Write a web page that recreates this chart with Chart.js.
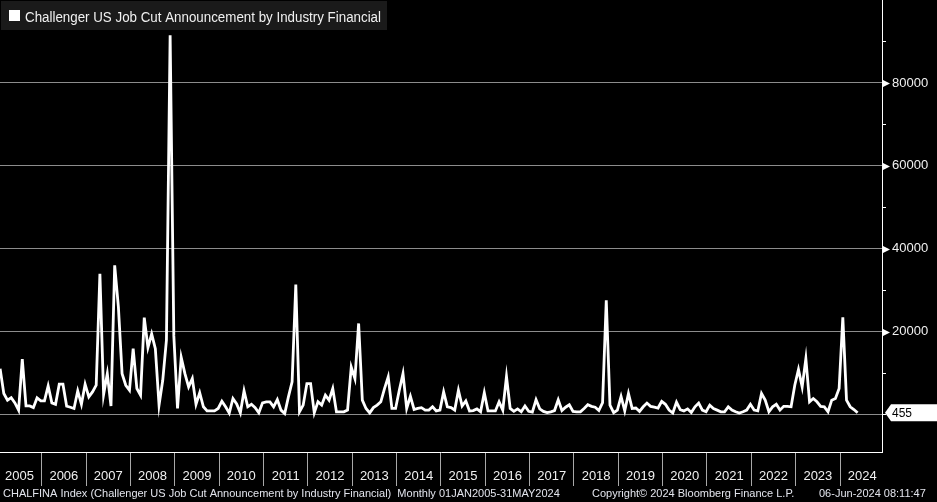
<!DOCTYPE html>
<html>
<head>
<meta charset="utf-8">
<script src="https://cdn.jsdelivr.net/npm/chart.js@4.4.1/dist/chart.umd.min.js"></script>
<style>
  html, body { margin: 0; padding: 0; background: #000; }
  #wrap { width: 937px; height: 502px; }
</style>
</head>
<body>
<div id="wrap"><canvas id="graph" width="937" height="502"></canvas></div>
<script>
// Monthly values, Jan 2005 .. May 2024
const years = ['2005','2006','2007','2008','2009','2010','2011','2012','2013','2014',
               '2015','2016','2017','2018','2019','2020','2021','2022','2023','2024'];
const jobCuts = [
  11100, 5100, 3500, 4100, 2850, 1100, 13400, 2100, 2100, 1700, 4050, 3350,   // 2005
  3350, 6950, 2850, 2500, 7350, 7350, 2050, 1800, 1500, 5750, 2500, 7350,     // 2006
  4300, 5500, 7100, 34000, 4850, 9900, 2100, 36000, 26000, 9900, 7100, 5900,  // 2007
  15900, 6300, 4700, 23400, 16200, 19500, 15900, 2300, 8300, 18000, 91500, 19000, // 2008
  1500, 13800, 9900, 6700, 8700, 2500, 5300, 1900, 900, 900, 900, 1500,       // 2009
  3250, 1900, 400, 3900, 2600, 440, 5750, 1900, 2500, 1700, 440, 2850,        // 2010
  3100, 3100, 1900, 3650, 1100, 280, 4300, 7900, 31400, 680, 2300, 7500,      // 2011
  7500, 440, 3100, 2300, 4700, 3500, 6300, 680, 680, 680, 1100, 11500,        // 2012
  8700, 22000, 3500, 1500, 440, 1700, 2300, 3100, 6300, 9100, 1500, 1500,     // 2013
  5900, 9900, 1500, 4450, 1250, 1500, 1700, 1100, 1100, 1900, 900, 1100,      // 2014
  5500, 1900, 1700, 1100, 5900, 2100, 3300, 900, 1000, 1400, 700, 5300,       // 2015
  900, 900, 900, 3100, 1100, 9200, 1500, 800, 1400, 700, 2100, 800,           // 2016
  600, 3600, 1400, 800, 500, 700, 1000, 3600, 1000, 1800, 2400, 800,          // 2017
  700, 700, 1500, 2400, 2000, 1800, 1000, 2900, 27600, 2300, 500, 1100,       // 2018
  4400, 900, 5100, 1500, 1600, 800, 1900, 2800, 2000, 1800, 1600, 3200,       // 2019
  2500, 1100, 400, 3000, 1200, 900, 1400, 500, 1900, 2800, 1100, 700,         // 2020
  2300, 1500, 1100, 700, 700, 1900, 1100, 700, 400, 700, 1100, 2500,         // 2021
  1100, 900, 5100, 3500, 700, 1900, 2500, 1100, 2000, 2000, 1900, 7100,       // 2022
  10900, 6700, 13500, 3100, 3900, 3100, 2000, 1900, 700, 3500, 3900, 6300,    // 2023
  23500, 3500, 1900, 1250, 455                                                // 2024
];
const yTicks = [0, 10000, 20000, 30000, 40000, 50000, 60000, 70000, 80000, 90000];
const lastValue = 455;
const seriesName = 'Challenger US Job Cut Announcement by Industry Financial';
const footerLeft = 'CHALFINA Index (Challenger US Job Cut Announcement by Industry Financial)  Monthly 01JAN2005-31MAY2024';
const footerMid = 'Copyright\u00A9 2024 Bloomberg Finance L.P.';
const footerRight = '06-Jun-2024 08:11:47';

const FONT = '"Liberation Sans", Arial, sans-serif';

// bits Chart.js has no option for: arrows, last value tag, legend box, footer
const bbgDecor = {
  id: 'bbgDecor',
  afterDraw(chart) {
    const ctx = chart.ctx;
    const ys = chart.scales.y;
    const area = chart.chartArea;
    ctx.save();

    ctx.fillStyle = '#fff';
    ys.ticks.forEach(t => {
      if (t.value > 0 && t.value % 20000 === 0) {
        const py = Math.round(ys.getPixelForValue(t.value)) + 0.5;
        ctx.beginPath();
        ctx.moveTo(area.right + 1, py - 3.5);
        ctx.lineTo(area.right + 8, py);
        ctx.lineTo(area.right + 1, py + 3.5);
        ctx.closePath();
        ctx.fill();
      }
    });

    // last value tag
    const ly = ys.getPixelForValue(lastValue);
    ctx.beginPath();
    ctx.moveTo(area.right + 3, ly);
    ctx.lineTo(area.right + 9, ly - 8.5);
    ctx.lineTo(chart.width, ly - 8.5);
    ctx.lineTo(chart.width, ly + 8.5);
    ctx.lineTo(area.right + 9, ly + 8.5);
    ctx.closePath();
    ctx.fill();
    ctx.fillStyle = '#000';
    ctx.font = '12px ' + FONT;
    ctx.textBaseline = 'middle';
    ctx.fillText(String(lastValue), area.right + 10, ly + 0.5);

    // legend box
    ctx.fillStyle = '#1a1a1a';
    ctx.fillRect(1, 1, 386, 29);
    ctx.fillStyle = '#fff';
    ctx.fillRect(9, 10, 11, 11);
    ctx.fillStyle = '#f0f0f0';
    ctx.font = '14px ' + FONT;
    ctx.textBaseline = 'alphabetic';
    ctx.fillText(seriesName, 25, 21.5, 356);

    // footer
    ctx.font = '11px ' + FONT;
    ctx.fillStyle = '#e2e4ec';
    ctx.fillText(footerLeft, 3, 497, 570);
    ctx.fillText(footerMid, 592, 497, 206);
    ctx.fillText(footerRight, 819, 497, 116);
    ctx.restore();
  }
};

const ctx = document.getElementById('graph').getContext('2d');
const chart = new Chart(ctx, {
  type: 'line',
  data: {
    datasets: [{
      label: seriesName,
      data: jobCuts.map((v, i) => ({ x: i, y: v })),
      borderColor: '#ffffff',
      borderWidth: 2.8,
      pointRadius: 0,
      tension: 0,
      fill: false
    }]
  },
  options: {
    responsive: false,
    animation: false,
    events: [],
    devicePixelRatio: 1,
    layout: { padding: 0 },
    plugins: {
      legend: { display: false },
      tooltip: { enabled: false }
    },
    scales: {
      x: {
        type: 'linear',
        position: 'bottom',
        min: -0.03,
        max: 238.6,
        afterBuildTicks: s => { s.ticks = years.map((y, k) => ({ value: 12 * k + 5.25 })); },
        afterFit: s => { s.height = 50; s.paddingLeft = 0; s.paddingRight = 0; },
        grid: {
          offset: true,
          drawOnChartArea: false,
          drawTicks: true,
          tickLength: 34,
          color: '#a8a8a8',
          lineWidth: 1
        },
        border: { display: true, color: '#ffffff', width: 1 },
        ticks: {
          autoSkip: false,
          maxRotation: 0,
          padding: -17,
          color: '#f0f0f0',
          font: { family: FONT, size: 13 },
          callback: (v, idx) => years[idx]
        }
      },
      y: {
        type: 'linear',
        position: 'right',
        min: -9000,
        max: 100000,
        afterBuildTicks: s => { s.ticks = yTicks.map(v => ({ value: v })); },
        afterFit: s => { s.width = 55; s.paddingTop = 0; s.paddingBottom = 0; },
        grid: {
          drawOnChartArea: true,
          color: c => (c.tick && c.tick.value % 20000 === 0) ? '#8c8c8c' : 'rgba(0,0,0,0)',
          tickColor: '#ffffff',
          tickLength: 4,
          lineWidth: 1
        },
        border: { display: true, color: '#ffffff', width: 1 },
        ticks: {
          padding: 6,
          color: '#f0f0f0',
          font: { family: FONT, size: 13 },
          callback: v => (v > 0 && v % 20000 === 0) ? String(v) : ''
        }
      }
    }
  },
  plugins: [bbgDecor]
});
</script>
</body>
</html>
